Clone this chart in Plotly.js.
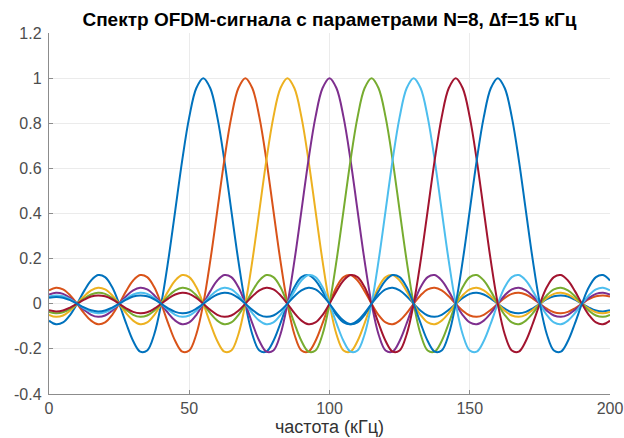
<!DOCTYPE html>
<html>
<head>
<meta charset="utf-8">
<script src="https://cdn.plot.ly/plotly-3.0.1.min.js"></script>
<style>html,body{margin:0;padding:0;background:#fff;}#chart{width:624px;height:438px;}</style>
</head>
<body>
<div id="chart"></div>
<script>
// Frequency grid, kHz
var freq = [0,2.5,5,7.5,10,12.5,15,17.5,20,22.5,25,27.5,30,32.5,35,37.5,40,42.5,45,47.5,50,52.5,55,57.5,60,62.5,65,67.5,70,72.5,75,77.5,80,82.5,85,87.5,90,92.5,95,97.5,100,102.5,105,107.5,110,112.5,115,117.5,120,122.5,125,127.5,130,132.5,135,137.5,140,142.5,145,147.5,150,152.5,155,157.5,160,162.5,165,167.5,170,172.5,175,177.5,180,182.5,185,187.5,190,192.5,195,197.5,200];

// Subcarrier spectra
var sc1 = [-0.075,-0.091,-0.083,-0.050,0,0.056,0.103,0.127,0.118,0.074,0,-0.087,-0.165,-0.212,-0.207,-0.136,0,0.191,0.413,0.637,0.827,0.955,1,0.955,0.827,0.637,0.413,0.191,0,-0.136,-0.207,-0.212,-0.165,-0.087,0,0.074,0.118,0.127,0.103,0.056,0,-0.050,-0.083,-0.091,-0.075,-0.042,0,0.038,0.064,0.071,0.059,0.033,0,-0.031,-0.052,-0.058,-0.049,-0.027,0,0.026,0.044,0.049,0.041,0.023,0,-0.022,-0.038,-0.042,-0.036,-0.020,0,0.020,0.033,0.037,0.032,0.018,0,-0.017,-0.030,-0.034,-0.029];
var sc2 = [0.059,0.071,0.064,0.038,0,-0.042,-0.075,-0.091,-0.083,-0.050,0,0.056,0.103,0.127,0.118,0.074,0,-0.087,-0.165,-0.212,-0.207,-0.136,0,0.191,0.413,0.637,0.827,0.955,1,0.955,0.827,0.637,0.413,0.191,0,-0.136,-0.207,-0.212,-0.165,-0.087,0,0.074,0.118,0.127,0.103,0.056,0,-0.050,-0.083,-0.091,-0.075,-0.042,0,0.038,0.064,0.071,0.059,0.033,0,-0.031,-0.052,-0.058,-0.049,-0.027,0,0.026,0.044,0.049,0.041,0.023,0,-0.022,-0.038,-0.042,-0.036,-0.020,0,0.020,0.033,0.037,0.032];
var sc3 = [-0.049,-0.058,-0.052,-0.031,0,0.033,0.059,0.071,0.064,0.038,0,-0.042,-0.075,-0.091,-0.083,-0.050,0,0.056,0.103,0.127,0.118,0.074,0,-0.087,-0.165,-0.212,-0.207,-0.136,0,0.191,0.413,0.637,0.827,0.955,1,0.955,0.827,0.637,0.413,0.191,0,-0.136,-0.207,-0.212,-0.165,-0.087,0,0.074,0.118,0.127,0.103,0.056,0,-0.050,-0.083,-0.091,-0.075,-0.042,0,0.038,0.064,0.071,0.059,0.033,0,-0.031,-0.052,-0.058,-0.049,-0.027,0,0.026,0.044,0.049,0.041,0.023,0,-0.022,-0.038,-0.042,-0.036];
var sc4 = [0.041,0.049,0.044,0.026,0,-0.027,-0.049,-0.058,-0.052,-0.031,0,0.033,0.059,0.071,0.064,0.038,0,-0.042,-0.075,-0.091,-0.083,-0.050,0,0.056,0.103,0.127,0.118,0.074,0,-0.087,-0.165,-0.212,-0.207,-0.136,0,0.191,0.413,0.637,0.827,0.955,1,0.955,0.827,0.637,0.413,0.191,0,-0.136,-0.207,-0.212,-0.165,-0.087,0,0.074,0.118,0.127,0.103,0.056,0,-0.050,-0.083,-0.091,-0.075,-0.042,0,0.038,0.064,0.071,0.059,0.033,0,-0.031,-0.052,-0.058,-0.049,-0.027,0,0.026,0.044,0.049,0.041];
var sc5 = [-0.036,-0.042,-0.038,-0.022,0,0.023,0.041,0.049,0.044,0.026,0,-0.027,-0.049,-0.058,-0.052,-0.031,0,0.033,0.059,0.071,0.064,0.038,0,-0.042,-0.075,-0.091,-0.083,-0.050,0,0.056,0.103,0.127,0.118,0.074,0,-0.087,-0.165,-0.212,-0.207,-0.136,0,0.191,0.413,0.637,0.827,0.955,1,0.955,0.827,0.637,0.413,0.191,0,-0.136,-0.207,-0.212,-0.165,-0.087,0,0.074,0.118,0.127,0.103,0.056,0,-0.050,-0.083,-0.091,-0.075,-0.042,0,0.038,0.064,0.071,0.059,0.033,0,-0.031,-0.052,-0.058,-0.049];
var sc6 = [0.032,0.037,0.033,0.020,0,-0.020,-0.036,-0.042,-0.038,-0.022,0,0.023,0.041,0.049,0.044,0.026,0,-0.027,-0.049,-0.058,-0.052,-0.031,0,0.033,0.059,0.071,0.064,0.038,0,-0.042,-0.075,-0.091,-0.083,-0.050,0,0.056,0.103,0.127,0.118,0.074,0,-0.087,-0.165,-0.212,-0.207,-0.136,0,0.191,0.413,0.637,0.827,0.955,1,0.955,0.827,0.637,0.413,0.191,0,-0.136,-0.207,-0.212,-0.165,-0.087,0,0.074,0.118,0.127,0.103,0.056,0,-0.050,-0.083,-0.091,-0.075,-0.042,0,0.038,0.064,0.071,0.059];
var sc7 = [-0.029,-0.034,-0.030,-0.017,0,0.018,0.032,0.037,0.033,0.020,0,-0.020,-0.036,-0.042,-0.038,-0.022,0,0.023,0.041,0.049,0.044,0.026,0,-0.027,-0.049,-0.058,-0.052,-0.031,0,0.033,0.059,0.071,0.064,0.038,0,-0.042,-0.075,-0.091,-0.083,-0.050,0,0.056,0.103,0.127,0.118,0.074,0,-0.087,-0.165,-0.212,-0.207,-0.136,0,0.191,0.413,0.637,0.827,0.955,1,0.955,0.827,0.637,0.413,0.191,0,-0.136,-0.207,-0.212,-0.165,-0.087,0,0.074,0.118,0.127,0.103,0.056,0,-0.050,-0.083,-0.091,-0.075];
var sc8 = [0.026,0.030,0.027,0.016,0,-0.016,-0.029,-0.034,-0.030,-0.017,0,0.018,0.032,0.037,0.033,0.020,0,-0.020,-0.036,-0.042,-0.038,-0.022,0,0.023,0.041,0.049,0.044,0.026,0,-0.027,-0.049,-0.058,-0.052,-0.031,0,0.033,0.059,0.071,0.064,0.038,0,-0.042,-0.075,-0.091,-0.083,-0.050,0,0.056,0.103,0.127,0.118,0.074,0,-0.087,-0.165,-0.212,-0.207,-0.136,0,0.191,0.413,0.637,0.827,0.955,1,0.955,0.827,0.637,0.413,0.191,0,-0.136,-0.207,-0.212,-0.165,-0.087,0,0.074,0.118,0.127,0.103];

var xTicks = [0,50,100,150,200];
var xTickText = ['0','50','100','150','200'];
var yTicks = [-0.4,-0.2,0,0.2,0.4,0.6,0.8,1,1.2];
var yTickText = ['-0.4','-0.2','0','0.2','0.4','0.6','0.8','1','1.2'];

var series = [sc1,sc2,sc3,sc4,sc5,sc6,sc7,sc8];
var colors = ['#0072BD','#D95319','#EDB120','#7E2F8E','#77AC30','#4DBEEE','#A2142F','#0072BD'];

var traces = series.map(function(s,i){
  return {x: freq, y: s, type:'scatter', mode:'lines',
    line:{color:colors[i], width:2, shape:'spline', smoothing:1}, showlegend:false, hoverinfo:'skip'};
});

var axisFont = {family:'Liberation Sans, Arial, sans-serif', size:16, color:'#4d4d4d'};
var layout = {
  width:624, height:438,
  margin:{l:49, r:14, t:33, b:44, pad:0},
  paper_bgcolor:'#ffffff', plot_bgcolor:'#ffffff',
  title:{text:'Спектр OFDM-сигнала с параметрами N=8, ∆f=15 кГц',
    font:{family:'Liberation Sans, Arial, sans-serif', size:19, color:'#000000', weight:'bold'},
    x:0.5, xref:'paper', y:1-19/438, yref:'container', yanchor:'middle'},
  xaxis:{range:[0,200], tickvals:xTicks, ticktext:xTickText, ticks:'inside', ticklen:4,
    tickcolor:'#8c8c8c', showline:true, linecolor:'#8c8c8c', linewidth:1.2, mirror:false,
    showgrid:true, gridcolor:'#ebebeb', zeroline:false, tickfont:axisFont,
    title:{text:'частота (кГц)', font:{family:'Liberation Sans, Arial, sans-serif', size:18, color:'#333333'}, standoff:2}},
  yaxis:{range:[-0.4,1.2], tickvals:yTicks, ticktext:yTickText, ticks:'inside', ticklen:4,
    tickcolor:'#8c8c8c', showline:true, linecolor:'#8c8c8c', linewidth:1.2, mirror:false,
    showgrid:true, gridcolor:'#ebebeb', zeroline:false, tickfont:axisFont, ticklabelstandoff:3}
};

Plotly.newPlot('chart', traces, layout, {displayModeBar:false, staticPlot:true});
</script>
</body>
</html>
